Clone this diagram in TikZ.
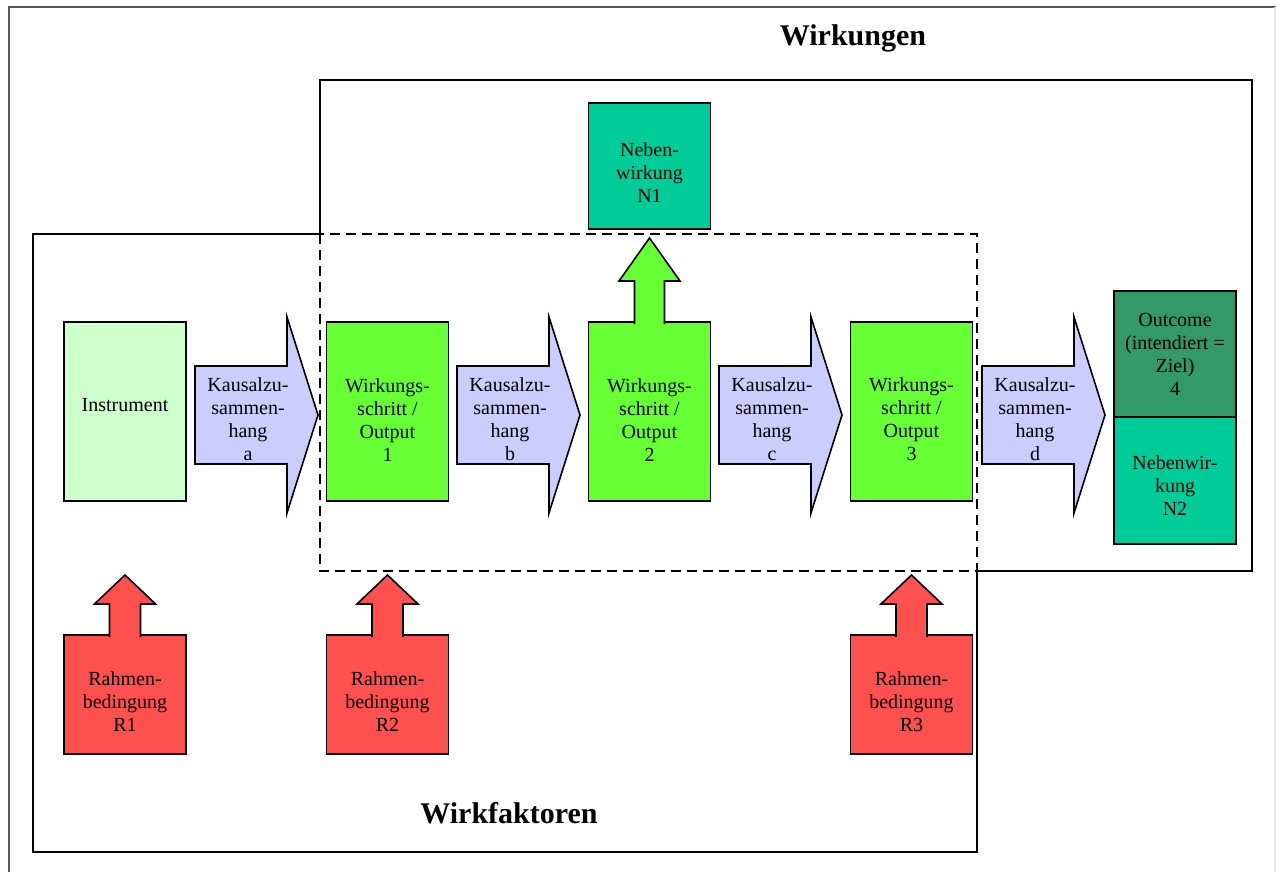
\documentclass[tikz,border=0pt]{standalone}
\usepackage{fontspec}
\setmainfont{Liberation Serif}
\usepackage{xcolor}

\definecolor{instgruen}{HTML}{CCFFCC}
\definecolor{schrittgruen}{HTML}{66FF33}
\definecolor{kausalblau}{HTML}{CCCCFF}
\definecolor{nebentuerkis}{HTML}{00CC99}
\definecolor{zielgruen}{HTML}{339966}
\definecolor{rahmenrot}{HTML}{FF5050}

% Hilfsstrebe, schiebt den Text im Kasten nach unten
\newcommand{\strebe}[1]{\rule{0pt}{#1}}

\tikzset{
	feld/.style={draw, line width=0.8pt, outer sep=0pt, minimum width=61pt, align=center, font=\fontsize{10}{11.5}\selectfont},
	pfeil/.style={draw, line width=0.8pt, line join=miter},
	bereich/.style={draw, line width=0.8pt},
	titel/.style={font=\fontsize{15}{18}\selectfont\bfseries}
}

\begin{document}
\begin{tikzpicture}[x=0.5pt, y=-0.5pt]
	\useasboundingbox (0,0) rectangle (1276,872);
	% Rand
	\draw[black!65, line width=0.6pt] (9,872) -- (9,7) -- (1276,7);
	\draw[black!10, line width=0.6pt] (1275,7) -- (1275,872);
	
	% Bereiche
	\draw[bereich] (320,234) -- (320,80) -- (1252,80) -- (1252,571) -- (977,571);
	\draw[bereich] (320,234) -- (33,234) -- (33,852) -- (977,852) -- (977,571);
	\draw[bereich, dash pattern=on 5pt off 3pt] (320,234) rectangle (977,571);
	\node[titel] (wirkungen) at (853,38) {Wirkungen};
	\node[titel] (wirkfaktoren) at (509,813) {Wirkfaktoren};
	
	% Kaesten
	\node[feld, fill=instgruen, minimum height=89.5pt] (inst) at (125,411.5) {\rule[-7pt]{0pt}{7pt}Instrument};
	\node[feld, fill=schrittgruen, minimum height=89.5pt] (ws1) at (387.5,411.5) {\strebe{15pt}Wirkungs-\\schritt /\\Output\\1};
	\node[feld, fill=schrittgruen, minimum height=89.5pt] (ws2) at (649.5,411.5) {\strebe{15pt}Wirkungs-\\schritt /\\Output\\2};
	\node[feld, fill=schrittgruen, minimum height=89.5pt] (ws3) at (911.5,411.5) {\strebe{15pt}Wirkungs-\\schritt /\\Output\\3};
	\node[feld, fill=nebentuerkis, minimum height=63pt] (n1) at (649.5,166) {\strebe{14pt}Neben-\\wirkung\\N1};
	\node[feld, fill=zielgruen, minimum height=63pt] (out) at (1175,354) {Outcome\\(intendiert =\\Ziel)\\4};
	\node[feld, fill=nebentuerkis, minimum height=63.5pt, anchor=north] (n2) at (out.south) {\strebe{12pt}Nebenwir-\\kung\\N2};
	
	% Kausalzusammenhaenge
	\foreach \x/\l in {241/a, 503/b, 765/c, 1028/d} {
		\draw[pfeil, fill=kausalblau] (\x,415) ++(-46,-49) -- ++(92,0) -- ++(0,-49) -- ++(31,98) -- ++(-31,98) -- ++(0,-49) -- ++(-92,0) -- cycle;
		\node[align=center, font=\fontsize{10}{11.5}\selectfont] (k\l) at (\x+7,419) {Kausalzu-\\sammen-\\hang\\\l};
	}
	
	% Nebenwirkung N1 aus Schritt 2
	\draw[pfeil, fill=schrittgruen] (ws2.north) ++(-15,2) -- ++(0,-43) -- ++(-15.5,0) -- ++(30.5,-43) -- ++(30.5,43) -- ++(-15.5,0) -- ++(0,43);
	
	% Rahmenbedingungen
	\foreach \x/\n in {125/1, 387.5/2, 911.5/3} {
		\node[feld, fill=rahmenrot, minimum height=59.5pt] (r\n) at (\x,694.5) {\strebe{14pt}Rahmen-\\bedingung\\R\n};
		\draw[pfeil, fill=rahmenrot] (r\n.north) ++(-15.5,2) -- ++(0,-33) -- ++(-15,0) -- ++(30.5,-29) -- ++(30.5,29) -- ++(-15,0) -- ++(0,33);
	}
	
\end{tikzpicture}
\end{document}
